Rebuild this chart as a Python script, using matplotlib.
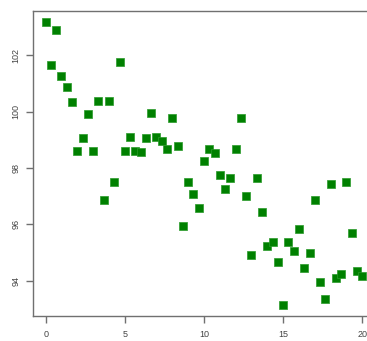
import matplotlib
matplotlib.use("Agg")
import matplotlib.pyplot as plt
import numpy as np

plt.rcParams['font.family'] = ['Liberation Sans', 'DejaVu Sans']

# x positions are k/3 for k = 0..60
k_index = list(range(61))
y_values = [103.17, 101.66, 102.89, 101.27, 100.88, 100.35, 98.60, 99.06, 99.90, 98.61,
            100.37, 96.87, 100.37, 97.52, 101.77, 98.62, 99.10, 98.61, 98.57, 99.06,
            99.96, 99.10, 98.96, 98.68, 99.76, 98.78, 95.95, 97.52, 97.07, 96.59,
            98.25, 98.68, 98.54, 97.74, 97.25, 97.65, 98.69, 99.76, 97.01, 94.92,
            97.64, 96.45, 95.24, 95.38, 94.65, 93.15, 95.36, 95.04, 95.83, 94.44,
            94.97, 96.85, 93.95, 93.36, 97.43, 94.09, 94.24, 97.50, 95.69, 94.35,
            94.17]
x_values = [k / 3 for k in k_index]
x_ticks = [0, 5, 10, 15, 20]
y_ticks = [94, 96, 98, 100, 102]

fig = plt.figure(figsize=(3.67, 3.41), dpi=100)
ax = fig.add_axes([33/367, 25/341, (375-33)/367, (316-11)/341])

ax.scatter(x_values, y_values, marker='s', s=28, color='#008000',
           edgecolors='#2a9a2a', linewidths=0.5, zorder=3)

ax.set_xlim(-0.8, 20.8)
ax.set_ylim(92.75, 103.57)
ax.set_xticks(x_ticks)
ax.set_yticks(y_ticks)
ax.set_xticklabels([str(t) for t in x_ticks])
ax.set_yticklabels([str(t) for t in y_ticks], rotation=90, va='center')

for s in ax.spines.values():
    s.set_color('#707070')
    s.set_linewidth(1.0)
ax.tick_params(axis='both', colors='#707070', labelcolor='#444444',
               labelsize=6.5, length=5, width=1.0, direction='out')
ax.tick_params(axis='x', pad=5)
ax.tick_params(axis='y', pad=4)

fig.savefig('out.png', dpi=100, facecolor='white')
